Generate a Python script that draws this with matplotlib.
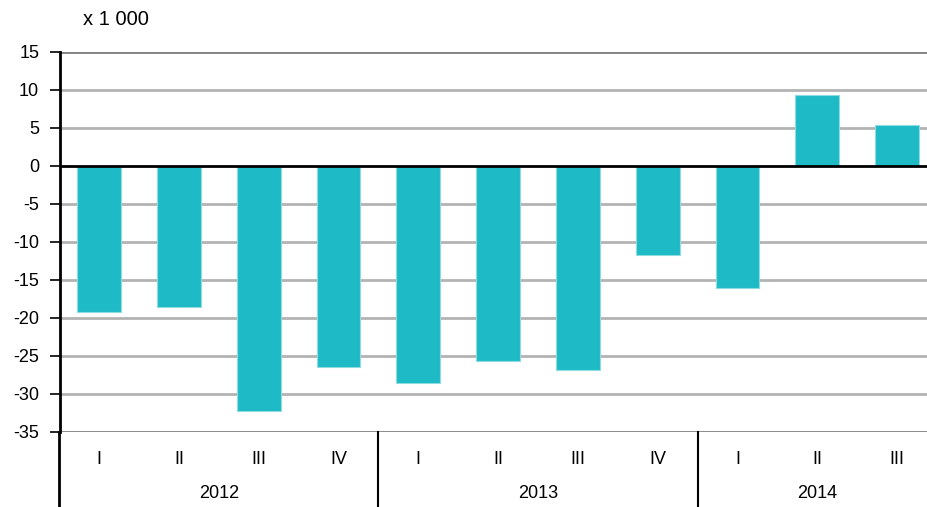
import matplotlib.pyplot as plt
import matplotlib.transforms as mtransforms
import numpy as np

plt.rcParams['font.family'] = ['Liberation Sans', 'DejaVu Sans']

# Data (x 1 000)
quarters = ['I', 'II', 'III', 'IV', 'I', 'II', 'III', 'IV', 'I', 'II', 'III']
years = ['2012', '2013', '2014']
year_counts = [4, 4, 3]
values = [-19.2, -18.6, -32.2, -26.5, -28.6, -25.6, -26.9, -11.7, -16.0, 9.4, 5.4]

bar_color = '#1EBBC6'

fig = plt.figure(figsize=(9.28, 5.07), dpi=100)
ax = fig.add_axes([60 / 928, 75 / 507, 868 / 928, 380 / 507])

x = np.arange(len(values))
ax.bar(x, values, width=0.55, color=bar_color, edgecolor='#8EDCE2', linewidth=0.8, zorder=3)

# Axes limits / grid
ax.set_ylim(-35, 15)
ax.set_xlim(-0.49, -0.49 + 868 / 79.8)
yticks = np.arange(-35, 16, 5)
ax.set_yticks(yticks)
ax.set_yticklabels([str(v) for v in yticks], fontsize=13)
for v in yticks:
    if v == 0:
        continue
    col = '#808080' if v in (15, -35) else '#B3B3B3'
    ax.axhline(v, color=col, linewidth=2, zorder=1)
ax.axhline(0, color='black', linewidth=2, zorder=4)

for s in ['top', 'right', 'bottom']:
    ax.spines[s].set_visible(False)
ax.spines['left'].set_linewidth(2)
ax.spines['left'].set_zorder(5)
ax.tick_params(axis='y', length=7, width=1.2, pad=8)

# Quarter labels
ax.set_xticks(x)
ax.set_xticklabels(quarters, fontsize=13)
ax.tick_params(axis='x', length=0, pad=14)

# Year labels and separators
trans = mtransforms.blended_transform_factory(ax.transData, ax.transAxes)
start = 0
for yr, n in zip(years, year_counts):
    center = start + (n - 1) / 2
    ax.text(center, -0.163, yr, transform=trans, ha='center', va='center', fontsize=13)
    ax.plot([start - 0.5, start - 0.5], [0, -0.2], transform=trans, color='black',
            linewidth=2 if start == 0 else 1.5, clip_on=False, zorder=5)
    start += n

ax.text(0.027, 1.085, 'x 1 000', transform=ax.transAxes, fontsize=14.5, ha='left', va='center')

fig.savefig('out.png', dpi=100)
